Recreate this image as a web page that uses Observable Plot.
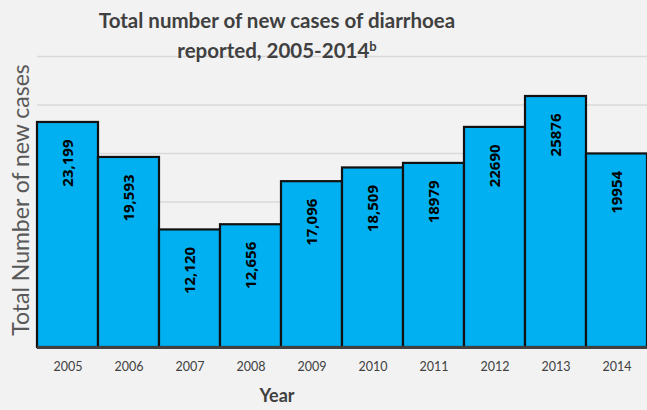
<!DOCTYPE html>
<html>
<head>
<meta charset="utf-8">
<script src="https://cdn.jsdelivr.net/npm/d3@7"></script>
<script src="https://cdn.jsdelivr.net/npm/@observablehq/plot@0.6"></script>
<style>
  html, body { margin: 0; padding: 0; background: #f2f2f2; }
  #wrap { position: relative; width: 647px; height: 410px; overflow: hidden; background: #f2f2f2; }
  .title { position: absolute; left: 0; width: 554px; text-align: center; font-family: Lato, sans-serif; font-weight: bold; font-size: 20.5px; color: #404040; line-height: 1; white-space: nowrap; }
  .title sup { font-size: 13px; vertical-align: 0; position: relative; top: -7px; }
  .ytitle { position: absolute; left: 20px; top: 200px; transform: translate(-50%, -50%) rotate(-90deg); font-family: Lato, sans-serif; font-size: 23px; color: #595959; white-space: nowrap; line-height: 1; }
  .xtitle { position: absolute; left: 0; width: 554px; top: 384px; text-align: center; font-family: Lato, sans-serif; font-weight: bold; font-size: 18px; color: #404040; }
  svg { position: absolute; left: 0; top: 0; }
</style>
</head>
<body>
<div id="wrap"></div>
<script>
const years = ["2005","2006","2007","2008","2009","2010","2011","2012","2013","2014"];
const cases = [23199,19593,12120,12656,17096,18509,18979,22690,25876,19954];
const labels = ["23,199","19,593","12,120","12,656","17,096","18,509","18979","22690","25876","19954"];
const gridTicks = [5000,10000,15000,20000,25000,30000];
const titleLine1 = "Total number of new cases of diarrhoea";
const titleLine2 = "reported, 2005-2014";
const yTitle = "Total Number of new cases";
const xTitle = "Year";

const data = years.map((y, i) => ({year: y, value: cases[i], label: labels[i]}));

const chart = Plot.plot({
  width: 647,
  height: 410,
  marginTop: 56,
  marginBottom: 63,
  marginLeft: 37,
  marginRight: 0,
  style: {background: "#f2f2f2", fontFamily: "Lato, sans-serif", overflow: "visible"},
  x: {domain: years, padding: 0, label: null},
  y: {domain: [0, 30000], axis: null},
  marks: [
    Plot.ruleY(gridTicks, {stroke: "#d9d9d9", strokeWidth: 1.5}),
    Plot.barY(data, {x: "year", y: "value", fill: "#00b0f0", stroke: "#111", strokeWidth: 2.2}),
    Plot.ruleY([0], {stroke: "#404040", strokeWidth: 3}),
    Plot.text(data, {x: "year", y: "value", text: "label", rotate: -90, textAnchor: "end", lineAnchor: "middle", dy: 17, fontWeight: "bold", fontSize: 15, fill: "#000", fontFamily: "'Open Sans', sans-serif"}),
    Plot.axisX({tickSize: 0, tickPadding: 15, fontSize: 12.5, fill: "#404040", label: null})
  ]
});

const wrap = document.getElementById("wrap");
wrap.appendChild(chart);

const t1 = document.createElement("div");
t1.className = "title"; t1.style.top = "10px"; t1.textContent = titleLine1;
const t2 = document.createElement("div");
t2.className = "title"; t2.style.top = "40px";
t2.innerHTML = titleLine2 + "<sup>b</sup>";
const yt = document.createElement("div");
yt.className = "ytitle"; yt.textContent = yTitle;
const xt = document.createElement("div");
xt.className = "xtitle"; xt.textContent = xTitle;
wrap.append(t1, t2, yt, xt);
</script>
</body>
</html>
